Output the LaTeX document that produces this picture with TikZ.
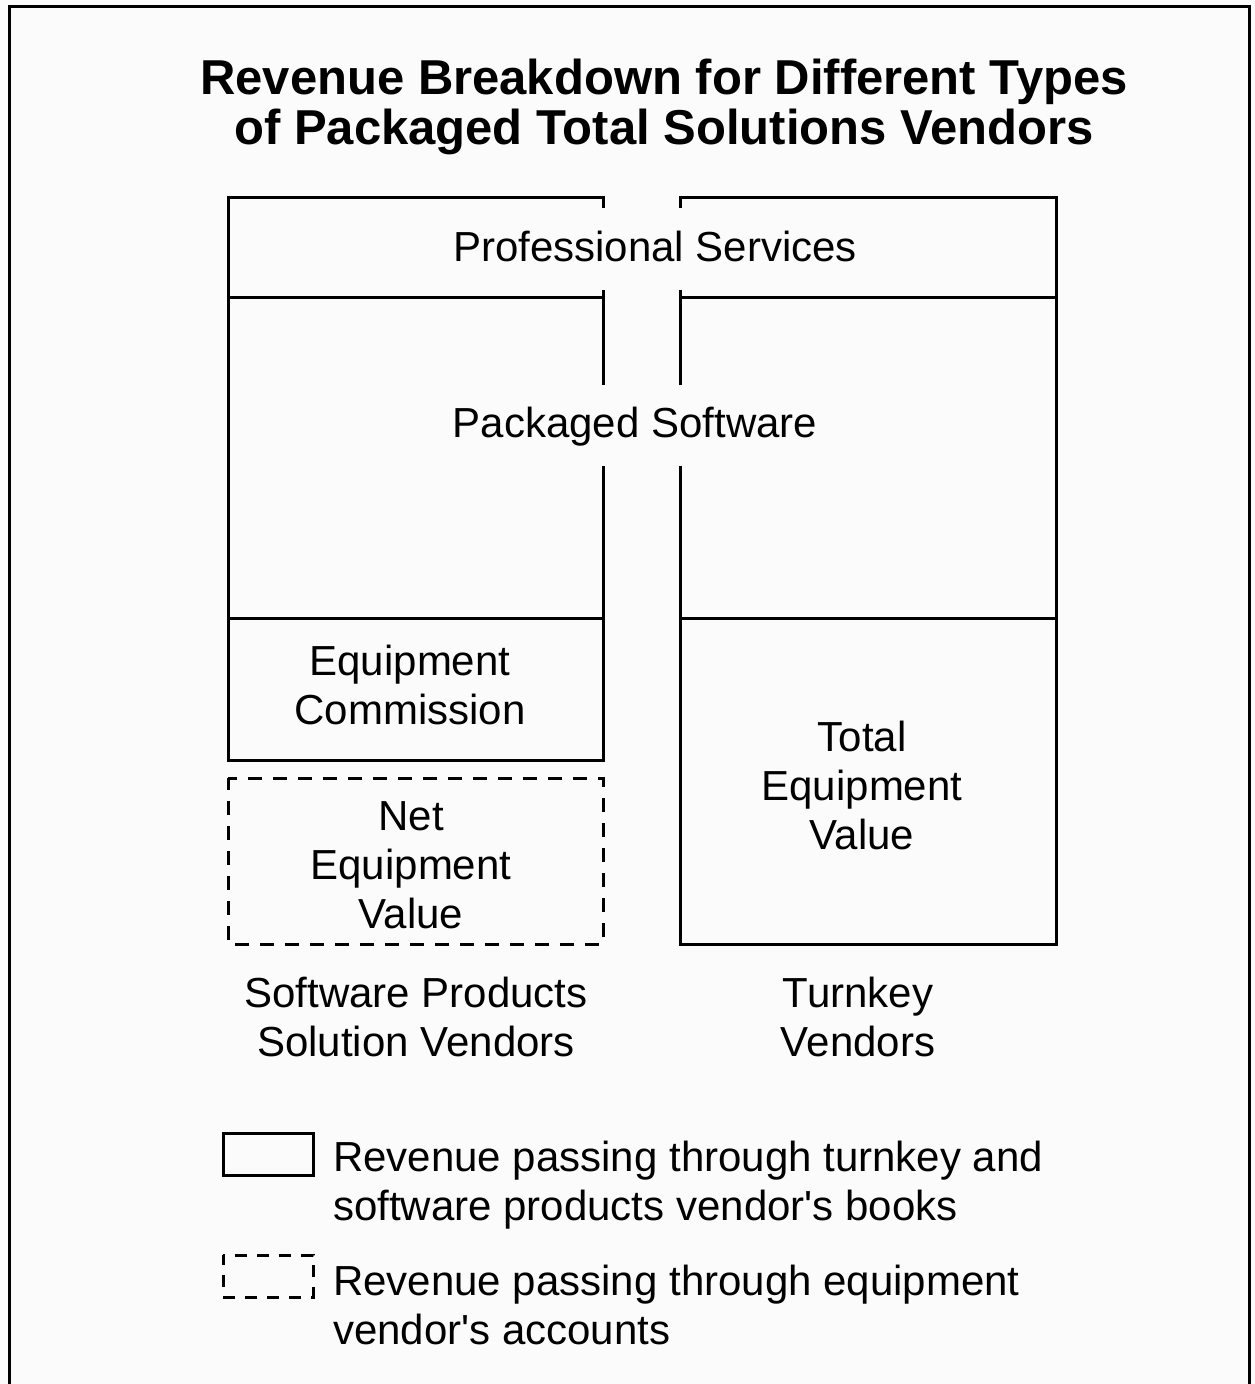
\documentclass[tikz,border=0pt]{standalone}
\usepackage{fontspec}
\setmainfont{Liberation Sans}
\begin{document}
\begin{tikzpicture}[x=1pt,y=-1pt,
  ln/.style={line width=3pt,line cap=rect},
  dsh/.style={line width=3pt,dash pattern=on 14pt off 11pt},
  lbl/.style={font=\fontsize{42}{49}\selectfont,align=center,inner sep=0pt},
  lgd/.style={font=\fontsize{42}{49}\selectfont,align=left,anchor=west,inner sep=0pt},
  ttl/.style={font=\fontsize{49}{50}\selectfont\bfseries,align=center,inner sep=0pt}]
\useasboundingbox (0,0) rectangle (1255,1384);
\fill[white!97!gray] (0,0) rectangle (1255,1384);
% outer frame (open at bottom)
\draw[line width=3pt] (9,1384) -- (9,6) -- (1249,6) -- (1249,1384);
% title
\node[ttl] (title) at (664,107) {Revenue Breakdown for Different Types\\of Packaged Total Solutions Vendors};
% left column
\draw[ln] (603,206) -- (603,197) -- (228,197) -- (228,760) -- (603,760) -- (603,467);
\draw[ln] (603,291) -- (603,383);
\draw[ln] (228,297) -- (603,297);
\draw[ln] (228,618) -- (603,618);
% right column
\draw[ln] (680,206) -- (680,197) -- (1056,197) -- (1056,944) -- (680,944) -- (680,467);
\draw[ln] (680,291) -- (680,383);
\draw[ln] (680,297) -- (1056,297);
\draw[ln] (680,618) -- (1056,618);
% dashed box
\draw[dsh,dash phase=2pt] (228,778) rectangle (603,944);
% labels
\node[lbl] (ps) at (655,246) {Professional Services};
\node[lbl] (sw) at (635,427) {Packaged Software};
\node[lbl] (ec) at (410,685) {Equipment\\Commission};
\node[lbl] (nev) at (411,865) {Net\\Equipment\\Value};
\node[lbl] (tev) at (862,785) {Total\\Equipment\\Value};
\node[lbl] (spv) at (416,1017) {Software Products\\Solution Vendors};
\node[lbl] (tkv) at (858,1017) {Turnkey\\Vendors};
% legend
\draw[ln] (223,1133) rectangle (313,1175);
\draw[dsh,dash pattern=on 12pt off 10pt,dash phase=2pt] (223,1255) rectangle (313,1297);
\node[lgd] (l1) at (333,1185) {Revenue passing through turnkey and\\software products vendor\textquotesingle s books};
\node[lgd] (l2) at (333,1305) {Revenue passing through equipment\\vendor\textquotesingle s accounts};
\end{tikzpicture}
\end{document}
